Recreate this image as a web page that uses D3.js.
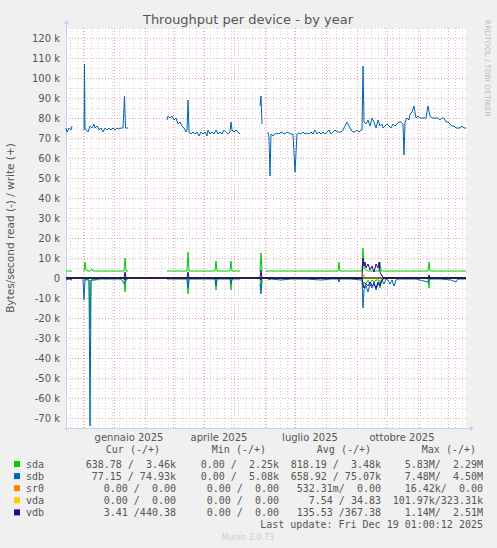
<!DOCTYPE html>
<html><head><meta charset="utf-8">
<script src="https://cdn.jsdelivr.net/npm/d3@7"></script>
<style>body{margin:0;background:#f0f0f0}svg{display:block}</style>
</head><body>
<script>
// day offsets from 2024-11-14, values in k bytes/s; null = gap
const startDate = new Date(2024,10,14);
const sdbWrite = [[0,75],[1,73],[3,75],[5,74],[6,76],[7,null],
 [18,74],[18.5,107],[19,75],[20,74],[22,73],[24,76],[26,75],[28,77],[29,75],[31,76],[33,74],[35,75],[37,73],[39,75],[41,74],[43,75],[45,74],[47,75],[49,74],[51,75],[53,74.5],[55,75],[57,75],[58.5,91],[59.5,75],[62,75],[63,null],
 [101,79],[102,81],[104,80],[106,81],[108,79],[110,80],[112,77],[114,78],[116,76],[118,75],[120,73],[121,74],[122,89],[123,73],[125,72],[127,73],[129,72],[131,73],[133,71],[135,73],[137,72],[139,73],[141,71],[142,74],[144,72],[146,73],[148,72],[150,74],[152,72],[154,73],[156,72],[158,74],[160,73],[162,72],[164,73],[165,78],[166,74],[168,73],[170,74],[172,73],[174,72],[175,null],
 [194,86],[195,91],[196,77],[198,null],[202,73],[203,70],[204,51],[205,72],[207,71],[209,72],[211,72.5],[213,72],[215,73],[217,72.5],[219,72],[221,73],[223,72.5],[225,72],[227,72],[229,53],[231,72],[233,72.5],[235,72],[237,73],[239,72],[241,72.5],[243,72],[245,73],[247,72],[249,74],[251,72],[253,73],[255,72],[257,73],[259,72],[261,73],[263,74],[265,72],[267,73],[269,74],[271,73],[273,73],[275,73],[277,74],[279,76],[281,78],[283,76],[285,74],[287,73],[289,73],[291,74],[293,73],[295,74],[296,74],[297,106],[298,78],[300,77],[302,79],[304,76],[306,80],[308,78],[310,75],[312,79],[314,76],[316,77],[317,75],[319,76],[321,77],[323,76],[325,75],[327,77],[329,76],[331,77],[333,78],[335,78],[337,77],[338,61.5],[339,78],[341,80],[343,79],[344,82],[346,83],[348,86],[350,80],[352,81],[354,80],[356,80],[358,80],[360,80],[362,86],[364,81],[366,80],[368,80],[370,80],[372,80],[374,79],[376,80],[378,80],[380,78],[382,78],[384,77],[386,76],[388,76],[390,75],[392,75],[394,75],[396,76],[398,75],[400,75]];
const sdbRead = [[0,-1],[3,-0.5],[6,-1],[7,null],
 [17,-0.5],[18,-11],[19,-1],[21,-0.5],[23,-1],[24,-74],[25,-1],[28,-1],[30,-0.5],[35,-0.5],[45,-0.5],[55,-0.5],[58.5,-3],[60,-0.5],[62,-0.5],[63,null],
 [101,-0.5],[110,-0.5],[121,-0.5],[122,-5],[123,-0.5],[135,-0.5],[149,-0.5],[150,-4],[151,-0.5],[164,-0.5],[165,-3],[166,-0.5],[174,-0.5],[175,null],
 [194,-3],[195,-8],[196,-1],[198,null],[202,-1],[205,-0.5],[215,-1],[225,-0.5],[240,-0.5],[255,-1],[265,-0.5],[272,-0.5],[273,-2],[274,-0.5],[285,-0.5],[296,-1],[297,-15],[298,-6],[300,-4],[302,-7],[304,-3],[306,-5],[308,-2],[310,-6],[312,-3],[314,-4],[316,-1],[318,-3],[320,-0.5],[322,-1],[324,-3],[326,-1],[328,-4],[330,-1],[332,-0.5],[340,-0.5],[350,-0.5],[362,-2],[363,-0.5],[375,-0.5],[385,-1],[390,-2],[392,-0.5],[400,-0.5]];
const sdaWrite = [[0,3.5],[6,3.5],[7,null],
 [18,3.5],[19,8],[20,4],[22,3.5],[24,3.5],[26,4.5],[27,3.5],[40,3.5],[50,3.5],[58,3.5],[59,10],[60,3.5],[62,3.5],[63,null],
 [101,3.5],[110,3.5],[121,3.5],[122,13],[123,3.5],[135,3.5],[149,3.5],[150,8.5],[151,3.5],[164,3.5],[165,8.5],[166,3.5],[174,3.5],[175,null],
 [194,3.5],[195,12.5],[196,3.5],[198,null],[200,3.5],[220,3.5],[240,3.5],[260,3.5],[272,3.5],[273,8],[274,3.5],[296,3.5],[297,15],[298,5],[300,4],[302,3.5],[313,3.5],[314,8],[315,3.5],[330,3.5],[350,3.5],[362,3.5],[363,8],[364,3.5],[380,3.5],[400,3.5]];
const sdaRead = [[0,0],[6,0],[7,null],
 [18,0],[19,-1],[20,-1],[23,-1],[24,-25],[25,-1],[28,-1],[30,-1],[35,0],[58,0],[59,-7],[60,0],[62,0],[63,null],
 [101,0],[121,0],[122,-8],[123,0],[149,0],[150,-6],[151,0],[164,0],[165,-6],[166,0],[174,0],[175,null],
 [194,0],[195,-5],[196,0],[198,null],[200,0],[272,0],[273,-1],[274,0],[296,0],[297,-5],[298,-2],[300,-3],[302,-1],[304,-3],[306,-1],[308,-2],[310,-1],[313,-1],[314,-5],[315,-1],[320,0],[362,0],[363,-5],[364,0],[400,0]];
const vdbWrite = [[0,0],[58,0],[59,3],[60,0],[121,0],[122,3],[123,0],[194,0],[195,4],[196,0],[296,0],[297,10],[298,6],[299,8],[300,5],[302,7],[304,4],[306,6],[308,3],[310,7],[312,5],[313,8],[314,3],[316,1],[318,0],[362,0],[363,1.5],[364,0],[400,0]];
const vdbRead = [[0,0],[58,0],[59,-1],[60,0],[194,0],[195,-1],[196,0],[296,0],[297,-3],[298,-5],[300,-3],[302,-4],[304,-2],[306,-4],[308,-3],[310,-5],[312,-2],[314,-4],[316,-1],[318,0],[400,0]];
const vdaWrite = [[0,0],[297,0],[298,2],[299,0],[400,0]];
const yTicks = [120,110,100,90,80,70,60,50,40,30,20,10,0,-10,-20,-30,-40,-50,-60,-70];
const monthLabels = [["gennaio 2025",new Date(2025,0,16)],["aprile 2025",new Date(2025,3,16)],["luglio 2025",new Date(2025,6,16)],["ottobre 2025",new Date(2025,9,16)]];
const legendNames = ["sda","sdb","sr0","vda","vdb"];
const legendColors = ["#00cc00","#0066b3","#ff8000","#ffcc00","#330099"];
const legendCur = ["638.78 /  3.46k","77.15 / 74.93k","0.00 /  0.00","0.00 /  0.00","3.41 /440.38"];
const legendMin = ["0.00 /  2.25k","0.00 /  5.08k","0.00 /  0.00","0.00 /  0.00","0.00 /  0.00"];
const legendAvg = ["818.19 /  3.48k","658.92 / 75.07k","532.31m/  0.00","7.54 / 34.83","135.53 /367.38"];
const legendMax = ["5.83M/  2.29M","7.48M/  4.50M","16.42k/  0.00","101.97k/323.31k","1.14M/  2.51M"];

const W=497,H=548, L=66, R=466, T=28, B=428;
const svg=d3.select("body").append("svg").attr("width",W).attr("height",H);
svg.append("rect").attr("width",W).attr("height",H).attr("fill","#f0f0f0");
const x=d3.scaleTime().domain([startDate,d3.timeDay.offset(startDate,400)]).range([L,R]);
const y=d3.scaleLinear().domain([-75,125]).range([B,T]);
svg.append("rect").attr("x",L).attr("y",T).attr("width",R-L).attr("height",B-T).attr("fill","#fff");
const g=svg.append("g");
for(let v=-75;v<=125;v+=5){ if(v%10===0) continue;
 g.append("line").attr("x1",L).attr("x2",R).attr("y1",y(v)+.5).attr("y2",y(v)+.5).attr("stroke","#d4d4d4").attr("stroke-dasharray","1,2");}
d3.timeMonday.range(startDate,x.domain()[1]).forEach(d=>{
 g.append("line").attr("x1",Math.round(x(d))+.5).attr("x2",Math.round(x(d))+.5).attr("y1",T).attr("y2",B).attr("stroke","#d4d4d4").attr("stroke-dasharray","1,2");});
yTicks.forEach(v=>g.append("line").attr("x1",L).attr("x2",R).attr("y1",y(v)+.5).attr("y2",y(v)+.5).attr("stroke","#f5a0a0").attr("stroke-dasharray","1,2"));
d3.timeMonth.range(startDate,x.domain()[1]).forEach(d=>{
 g.append("line").attr("x1",Math.round(x(d))+.5).attr("x2",Math.round(x(d))+.5).attr("y1",T).attr("y2",B).attr("stroke","#f5a0a0").attr("stroke-dasharray","1,2");});
const yAx=svg.append("g").attr("transform",`translate(${L},0)`).call(d3.axisLeft(y).tickValues(yTicks).tickSize(0).tickPadding(6).tickFormat(v=>v===0?"0":v+" k"));
yAx.select(".domain").remove();
yAx.selectAll("text").attr("font-family","DejaVu Sans").attr("font-size",10).attr("fill","#555");
svg.append("line").attr("x1",L-3).attr("x2",R+4).attr("y1",B+.5).attr("y2",B+.5).attr("stroke","#c8d0f0");
svg.append("line").attr("x1",L+.5).attr("x2",L+.5).attr("y1",B+3).attr("y2",T-4).attr("stroke","#c8d0f0");
svg.append("path").attr("d",`M${R+4},${B-2.5}L${R+8},${B+.5}L${R+4},${B+3.5}Z`).attr("fill","#c8d0f0");
svg.append("path").attr("d",`M${L-2.5},${T-4}L${L+.5},${T-8}L${L+3.5},${T-4}Z`).attr("fill","#c8d0f0");
monthLabels.forEach(([t,d])=>svg.append("text").attr("x",x(d)).attr("y",441).attr("text-anchor","middle").attr("font-family","DejaVu Sans").attr("font-size",10).attr("fill","#555").text(t));
const line=d3.line().defined(d=>d[1]!==null).x(d=>x(d3.timeHour.offset(startDate,d[0]*24))).y(d=>y(d[1]));
const plot=svg.append("g");
[[sdaWrite,0],[sdaRead,0],[sdbWrite,1],[sdbRead,1],[vdaWrite,3],[vdbWrite,4],[vdbRead,4]].forEach(([data,i])=>
 plot.append("path").attr("d",line(data)).attr("fill","none").attr("stroke",legendColors[i]).attr("stroke-width",1));
svg.append("line").attr("x1",L).attr("x2",R).attr("y1",y(0)).attr("y2",y(0)).attr("stroke","#000").attr("stroke-width",1);
svg.append("text").attr("x",248).attr("y",24).attr("text-anchor","middle").attr("font-family","DejaVu Sans").attr("font-size",13).attr("fill","#555").text("Throughput per device - by year");
svg.append("text").attr("transform","translate(14,228) rotate(-90)").attr("text-anchor","middle").attr("font-family","DejaVu Sans").attr("font-size",10.5).attr("fill","#555").text("Bytes/second read (-) / write (+)");
svg.append("text").attr("transform","translate(485,20) rotate(90)").attr("font-family","DejaVu Sans").attr("font-size",7.5).attr("fill","#bbb").text("RRDTOOL / TOBI OETIKER");
const mono=(t,xx,yy,anchor)=>svg.append("text").attr("x",xx).attr("y",yy).attr("text-anchor",anchor).attr("font-family","DejaVu Sans Mono").attr("font-size",10).attr("fill","#555").attr("xml:space","preserve").style("white-space","pre").text(t);
mono("Cur (-/+)",160,453,"end");mono("Min (-/+)",266,453,"end");mono("Avg (-/+)",371,453,"end");mono("Max (-/+)",476,453,"end");
legendNames.forEach((n,i)=>{const yy=468+i*12.1;
 svg.append("rect").attr("x",14).attr("y",yy-7).attr("width",6).attr("height",6).attr("fill",legendColors[i]);
 mono(n,26,yy,"start");mono(legendCur[i],176,yy,"end");mono(legendMin[i],279,yy,"end");mono(legendAvg[i],381,yy,"end");mono(legendMax[i],483,yy,"end");});
mono("Last update: Fri Dec 19 01:00:12 2025",483,528,"end");
svg.append("text").attr("x",248).attr("y",540).attr("text-anchor","middle").attr("font-family","DejaVu Sans").attr("font-size",8).attr("fill","#ccc").text("Munin 2.0.73");
</script>
</body></html>
